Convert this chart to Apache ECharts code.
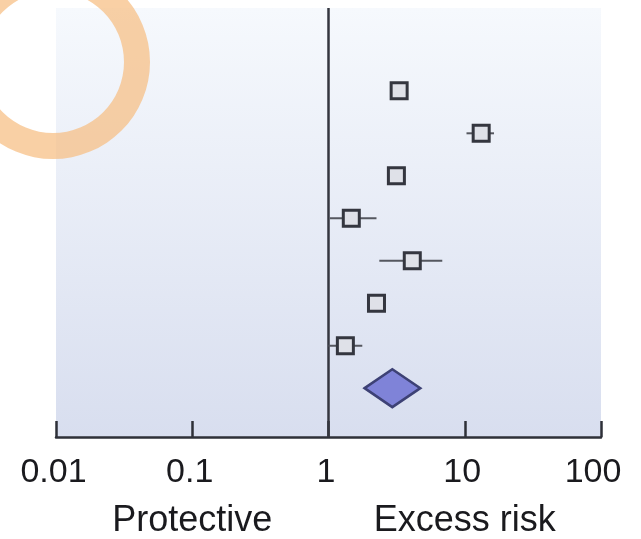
<!DOCTYPE html>
<html>
<head>
<meta charset="utf-8">
<script src="https://cdn.jsdelivr.net/npm/echarts@6/dist/echarts.min.js"></script>
<style>
  html, body { margin: 0; padding: 0; background: #ffffff; }
  #chart { width: 641px; height: 539px; }
</style>
</head>
<body>
<div id="chart"></div>
<script>
// Study rows (top to bottom) and pooled estimate
const rowIndex   = [1, 2, 3, 4, 5, 6, 7];
const estimates  = [3.3, 13.2, 3.15, 1.47, 4.12, 2.25, 1.33];
const lowerCI    = [3.0, 10.3, 2.9, 1.02, 2.36, 2.05, 1.0];
const upperCI    = [3.6, 16.4, 3.4, 2.25, 6.84, 2.45, 1.77];

const pooledRow   = 8;
const pooledEst   = 2.94;
const pooledLower = 1.84;
const pooledUpper = 4.72;

const tickValues = [0.01, 0.1, 1, 10, 100];
const tickLabels = ['0.01', '0.1', '1', '10', '100'];
const sideLabels = { 0.1: 'Protective', 10: 'Excess risk' };

const studyData = rowIndex.map((r, i) => [estimates[i], r, lowerCI[i], upperCI[i]]);
const pooledData = [[pooledEst, pooledRow, pooledLower, pooledUpper]];

const chart = echarts.init(document.getElementById('chart'), null, { renderer: 'canvas' });

const labelFont = '"Liberation Sans", Arial, sans-serif';

// tick labels sit a touch left of their ticks; the last one is pulled in further
function fmtTick(v) {
  for (let i = 0; i < tickValues.length; i++) {
    if (Math.abs(Math.log10(v) - Math.log10(tickValues[i])) < 1e-6) {
      return (i === tickValues.length - 1 ? '{e|' : '{t|') + tickLabels[i] + '}';
    }
  }
  return '';
}
function fmtSide(v) {
  for (const k in sideLabels) {
    if (Math.abs(Math.log10(v) - Math.log10(+k)) < 1e-6) return sideLabels[k];
  }
  return '';
}

const tickText = { fontSize: 34, fontFamily: labelFont, color: '#1a1a1e' };

chart.setOption({
  animation: false,
  backgroundColor: '#ffffff',
  grid: {
    left: 56, right: 40, top: 8, bottom: 102,
    show: true,
    borderWidth: 0,
    backgroundColor: {
      type: 'linear', x: 0, y: 0, x2: 0, y2: 1,
      colorStops: [
        { offset: 0, color: '#f6f9fd' },
        { offset: 1, color: '#d8deef' }
      ]
    }
  },
  graphic: [{
    type: 'ring',
    z: 100,
    shape: { cx: 53, cy: 62, r: 97, r0: 71 },
    style: { fill: 'rgba(247, 190, 130, 0.72)' }
  }],
  xAxis: [{
    type: 'log',
    logBase: 10,
    min: 0.01,
    max: 100,
    axisLine: { show: true, onZero: false, lineStyle: { color: '#2e3038', width: 2.5 } },
    axisTick: { show: true, inside: true, length: 16, lineStyle: { color: '#2e3038', width: 2.5 } },
    splitLine: { show: false },
    axisLabel: {
      show: true,
      margin: 19,
      color: '#1a1a1e',
      fontSize: 34,
      fontFamily: labelFont,
      formatter: fmtTick,
      showMinLabel: true,
      showMaxLabel: true,
      rich: {
        t: Object.assign({ padding: [0, 5, 0, 0] }, tickText),
        e: Object.assign({ padding: [0, 16, 0, 0] }, tickText)
      }
    }
  }, {
    type: 'log',
    logBase: 10,
    min: 0.01,
    max: 100,
    position: 'bottom',
    axisLine: { show: false, onZero: false },
    axisTick: { show: false },
    splitLine: { show: false },
    axisLabel: {
      show: true,
      margin: 66,
      color: '#1a1a1e',
      fontSize: 36,
      fontFamily: labelFont,
      formatter: fmtSide
    }
  }],
  yAxis: {
    type: 'value',
    inverse: true,
    min: -0.95,
    max: 9.15,
    show: false
  },
  series: [{
    type: 'custom',
    name: 'studies',
    coordinateSystem: 'cartesian2d',
    encode: { x: [0, 2, 3], y: 1 },
    data: studyData,
    z: 5,
    renderItem: function (params, api) {
      const y = api.value(1);
      const c = api.coord([api.value(0), y]);
      const lo = api.coord([api.value(2), y]);
      const hi = api.coord([api.value(3), y]);
      const s = 16;
      return {
        type: 'group',
        children: [{
          type: 'line',
          shape: { x1: lo[0], y1: c[1], x2: hi[0], y2: c[1] },
          style: { stroke: '#55575f', lineWidth: 2 }
        }, {
          type: 'rect',
          shape: { x: c[0] - s / 2, y: c[1] - s / 2, width: s, height: s },
          style: { fill: '#dfe1e8', stroke: '#34363f', lineWidth: 3 }
        }]
      };
    },
    markLine: {
      silent: true,
      symbol: 'none',
      label: { show: false },
      lineStyle: { color: '#34363f', width: 2.5, type: 'solid' },
      data: [{ xAxis: 1 }]
    }
  }, {
    type: 'custom',
    name: 'pooled',
    coordinateSystem: 'cartesian2d',
    encode: { x: [0, 2, 3], y: 1 },
    data: pooledData,
    z: 6,
    renderItem: function (params, api) {
      const y = api.value(1);
      const c = api.coord([api.value(0), y]);
      const lo = api.coord([api.value(2), y]);
      const hi = api.coord([api.value(3), y]);
      const h = 19;
      return {
        type: 'polygon',
        shape: { points: [[lo[0], c[1]], [c[0], c[1] - h], [hi[0], c[1]], [c[0], c[1] + h]] },
        style: { fill: '#7f83d8', stroke: '#3d4175', lineWidth: 2.5 }
      };
    }
  }]
});
</script>
</body>
</html>
